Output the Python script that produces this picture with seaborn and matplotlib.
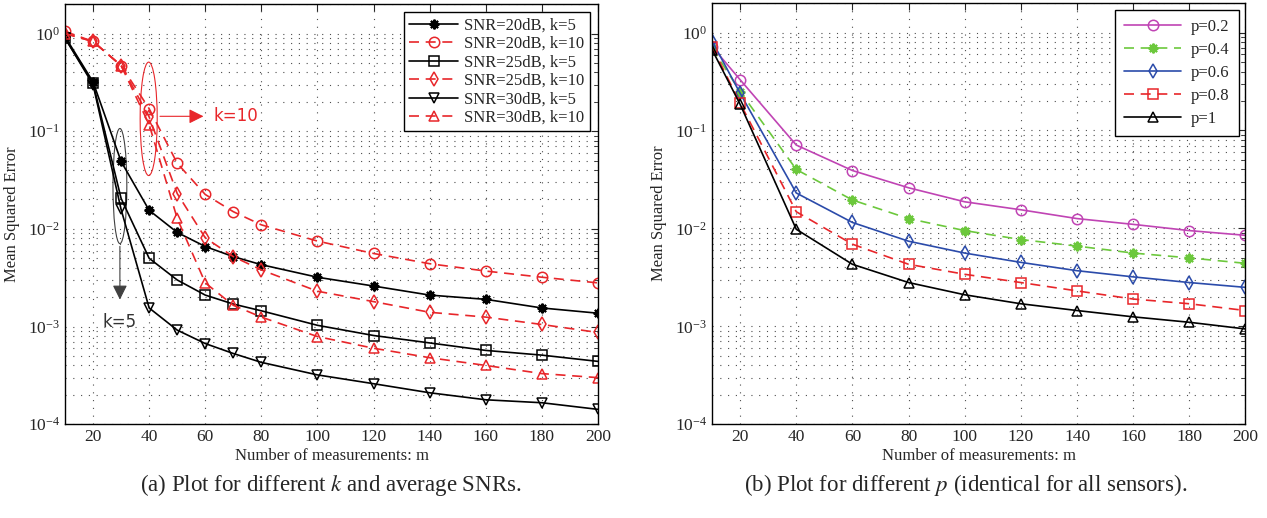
import numpy as np
import pandas as pd
import matplotlib
matplotlib.use('Agg')
import matplotlib.pyplot as plt
import seaborn as sns
from matplotlib.patches import Ellipse
from matplotlib.ticker import LogLocator, NullFormatter, FixedLocator

# ---- data: left panel (different k and SNR) ----
m_left = [10, 20, 30, 40, 50, 60, 70, 80, 100, 120, 140, 160, 180, 200]
snr20_k5 = [0.93, 0.32, 0.049, 0.0155, 0.0092, 0.0066, 0.0052, 0.0043, 0.0032, 0.0026, 0.0021, 0.0019, 0.00155, 0.00137]
snr20_k10 = [1.05, 0.83, 0.47, 0.17, 0.047, 0.0225, 0.015, 0.011, 0.0075, 0.0056, 0.0044, 0.0037, 0.0032, 0.0028]
snr25_k5 = [0.9, 0.31, 0.0205, 0.005, 0.003, 0.0021, 0.0017, 0.00145, 0.00103, 0.00081, 0.00068, 0.00057, 0.00051, 0.00044]
snr25_k10 = [1.0, 0.83, 0.47, 0.14, 0.023, 0.0081, 0.0052, 0.0038, 0.0023, 0.0018, 0.0014, 0.00125, 0.00105, 0.00087]
snr30_k5 = [0.9, 0.3, 0.0158, 0.00155, 0.00092, 0.00067, 0.00053, 0.00043, 0.00032, 0.00026, 0.00021, 0.000178, 0.000166, 0.000142]
snr30_k10 = [1.0, 0.83, 0.47, 0.117, 0.0128, 0.0028, 0.00165, 0.00125, 0.00079, 0.0006, 0.00048, 0.0004, 0.00033, 0.0003]

# ---- data: right panel (different p) ----
m_right = [10, 20, 40, 60, 80, 100, 120, 140, 160, 180, 200]
p02 = [0.72, 0.33, 0.071, 0.039, 0.026, 0.0187, 0.0155, 0.0126, 0.011, 0.0095, 0.0085]
p04 = [0.7, 0.25, 0.040, 0.0195, 0.0126, 0.0095, 0.0077, 0.0066, 0.0056, 0.005, 0.0044]
p06 = [0.82, 0.24, 0.023, 0.0115, 0.0074, 0.0056, 0.0045, 0.0037, 0.0032, 0.0028, 0.0025]
p08 = [0.72, 0.19, 0.0148, 0.0069, 0.0043, 0.0034, 0.0028, 0.0023, 0.0019, 0.0017, 0.00145]
p10 = [0.67, 0.185, 0.0098, 0.0043, 0.0028, 0.0021, 0.0017, 0.00145, 0.00125, 0.0011, 0.00094]

sns.set_style("white")
plt.rcParams['font.family'] = ['Liberation Serif', 'DejaVu Serif']
plt.rcParams['mathtext.fontset'] = 'stix'

RED = '#e8262a'
dash = (0, (6, 4))
STAR = (8, 2, 0)  # MATLAB-like asterisk

left_series = [
    ('SNR=20dB, k=5', snr20_k5, 'k', '-', STAR),
    ('SNR=20dB, k=10', snr20_k10, RED, dash, 'o'),
    ('SNR=25dB, k=5', snr25_k5, 'k', '-', 's'),
    ('SNR=25dB, k=10', snr25_k10, RED, dash, 'd'),
    ('SNR=30dB, k=5', snr30_k5, 'k', '-', 'v'),
    ('SNR=30dB, k=10', snr30_k10, RED, dash, '^'),
]
right_series = [
    ('p=0.2', p02, '#c044b4', '-', 'o'),
    ('p=0.4', p04, '#6cc83c', dash, STAR),
    ('p=0.6', p06, '#2b4baa', '-', 'd'),
    ('p=0.8', p08, RED, dash, 's'),
    ('p=1', p10, 'k', '-', '^'),
]

fig = plt.figure(figsize=(12.67, 5.18), dpi=100)
ax1 = fig.add_axes([0.0513, 0.181, 0.4207, 0.811])
ax2 = fig.add_axes([0.562, 0.181, 0.421, 0.813])


def draw(ax, x, series):
    for label, y, col, ls, mk in series:
        df = pd.DataFrame({'m': x, 'mse': y})
        ms = 7 if mk == STAR else 7.5
        mew = 1.5 if mk == STAR else 1.1
        sns.lineplot(data=df, x='m', y='mse', ax=ax, color=col, linestyle=ls,
                     marker=mk, markersize=ms, mfc='none', mec=col, mew=mew,
                     linewidth=1.2, label=label)


def style(ax, leg_kw):
    ax.set_yscale('log')
    ax.set_xlim(10, 200)
    ax.set_ylim(1e-4, 2)
    ax.xaxis.set_major_locator(FixedLocator(range(20, 201, 20)))
    ax.yaxis.set_major_locator(LogLocator(base=10, numticks=10))
    ax.yaxis.set_minor_locator(LogLocator(base=10, subs=np.arange(2, 10), numticks=20))
    ax.yaxis.set_minor_formatter(NullFormatter())
    grid_kw = dict(linestyle=(0, (1, 6)), color='0.3', linewidth=0.8)
    ax.grid(True, which='major', axis='both', **grid_kw)
    ax.grid(True, which='minor', axis='y', **grid_kw)
    ax.tick_params(which='both', direction='in', top=True, right=True, labelsize=12.5)
    ax.tick_params(which='major', length=5)
    ax.tick_params(which='minor', length=3)
    for s in ax.spines.values():
        s.set_color('k')
        s.set_linewidth(1.0)
    ax.set_xlabel('Number of measurements: m', fontsize=12, labelpad=2)
    ax.set_ylabel('Mean Squared Error', fontsize=12, labelpad=6)
    leg = ax.legend(loc='upper right', fontsize=12, fancybox=False, framealpha=1,
                    edgecolor='k', **leg_kw)
    leg.get_frame().set_linewidth(1.0)


draw(ax1, m_left, left_series)
draw(ax2, m_right, right_series)
style(ax1, dict(handlelength=2.9, borderpad=0.3, labelspacing=0.15,
                handletextpad=0.4, borderaxespad=0.5))
style(ax2, dict(handlelength=3.4, borderpad=0.55, labelspacing=0.42,
                handletextpad=0.6, borderaxespad=0.4))

# annotations on left panel
ax1.add_patch(Ellipse((0.157, 0.727), 0.032, 0.27, transform=ax1.transAxes,
                      fill=False, edgecolor=RED, linewidth=0.8))
ax1.annotate('', xy=(0.265, 0.733), xytext=(0.173, 0.733), xycoords='axes fraction',
             arrowprops=dict(arrowstyle='-|>', color=RED, lw=0.8, mutation_scale=22))
ax1.text(0.278, 0.733, 'k=10', transform=ax1.transAxes, color=RED, fontsize=12,
         family='DejaVu Sans', va='center', ha='left')
ax1.add_patch(Ellipse((0.103, 0.567), 0.026, 0.274, transform=ax1.transAxes,
                      fill=False, edgecolor='0.25', linewidth=0.8))
ax1.annotate('', xy=(0.103, 0.29), xytext=(0.103, 0.43), xycoords='axes fraction',
             arrowprops=dict(arrowstyle='-|>', color='0.25', lw=0.8, mutation_scale=22))
ax1.text(0.103, 0.265, 'k=5', transform=ax1.transAxes, color='0.2', fontsize=12,
         family='DejaVu Sans', va='top', ha='center')

fig.text(0.261, 0.063, '(a) Plot for different $k$ and average SNRs.', ha='center',
         va='center', fontsize=16.5)
fig.text(0.762, 0.063, '(b) Plot for different $p$ (identical for all sensors).',
         ha='center', va='center', fontsize=16.5)

fig.savefig('out.png', dpi=100)
